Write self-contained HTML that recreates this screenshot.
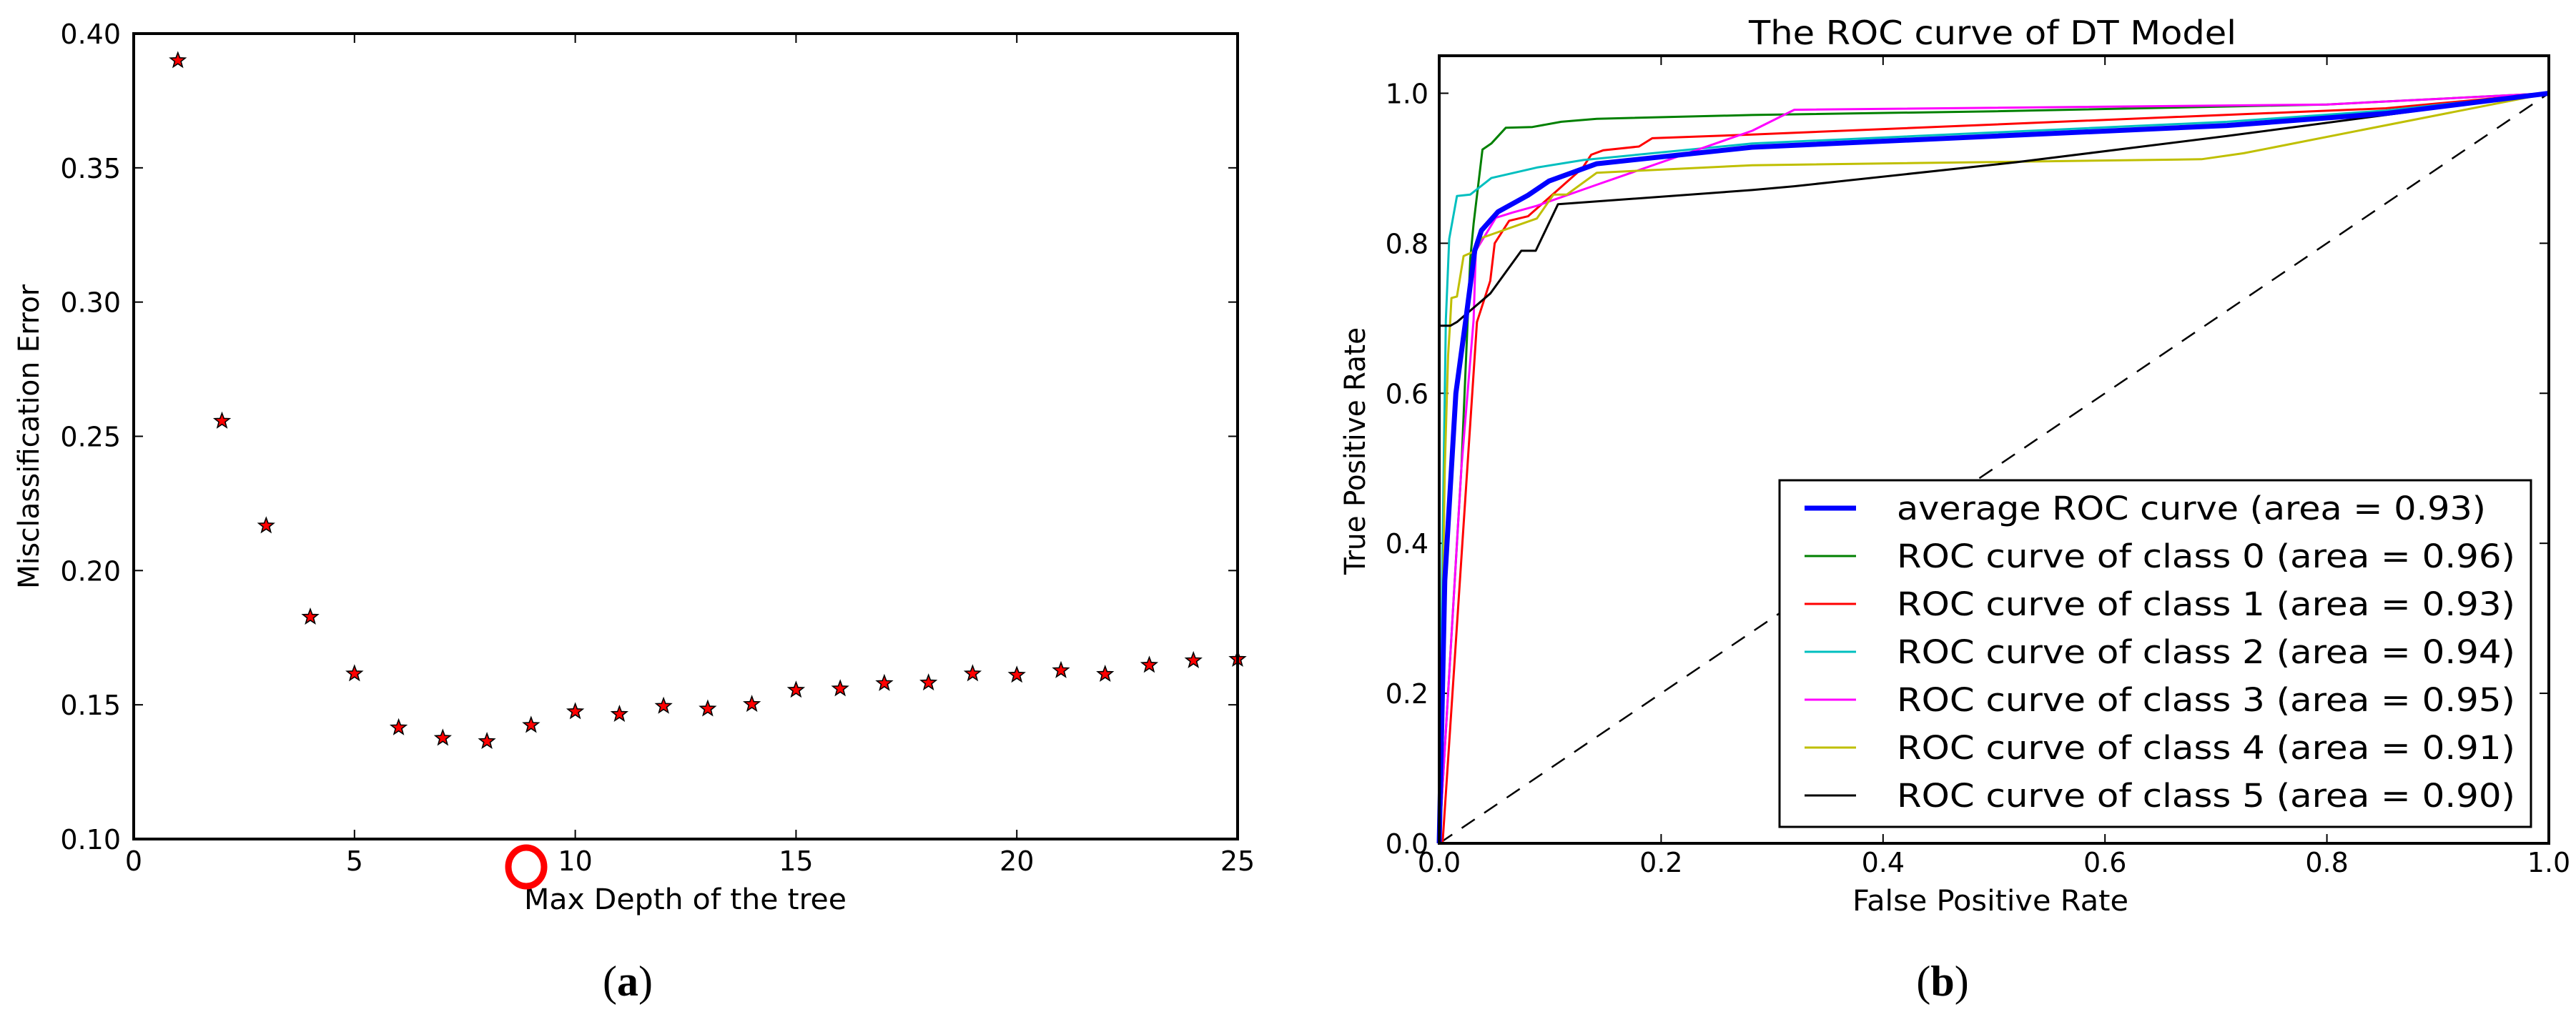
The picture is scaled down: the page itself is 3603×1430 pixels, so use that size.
<!DOCTYPE html>
<html><head><meta charset="utf-8"><style>
html,body{margin:0;padding:0;background:#fff;}
svg{display:block;}
text{font-family:"DejaVu Sans","Liberation Sans",sans-serif;fill:#000;}
</style></head><body>
<svg id="fig" width="3603" height="1430" viewBox="0 0 3603 1430" xmlns="http://www.w3.org/2000/svg">
<g id="chartA"></g>
<g id="chartB"></g>
</svg>
<script>
// ---- Chart (a) data ----
const depths = [1,2,3,4,5,6,7,8,9,10,11,12,13,14,15,16,17,18,19,20,21,22,23,24,25];
const errors = [0.390,0.2557,0.2167,0.1827,0.1616,0.1415,0.1376,0.1364,0.1424,0.1475,0.1465,0.1495,0.1485,0.1502,0.1555,0.156,0.158,0.1582,0.1616,0.1611,0.1628,0.1614,0.1648,0.1665,0.167];
const aXTicks = [0,5,10,15,20,25];
const aYTicks = ["0.10","0.15","0.20","0.25","0.30","0.35","0.40"];

// ---- Chart (b) data ----
const rocNames = ["average ROC curve (area = 0.93)","ROC curve of class 0 (area = 0.96)","ROC curve of class 1 (area = 0.93)","ROC curve of class 2 (area = 0.94)","ROC curve of class 3 (area = 0.95)","ROC curve of class 4 (area = 0.91)","ROC curve of class 5 (area = 0.90)"];
const rocColors = ["#0000ff","#008000","#ff0000","#00bfbf","#ff00ff","#bfbf00","#000000"];
const fprAvg = [0,0.005,0.015,0.024,0.032,0.038,0.053,0.080,0.099,0.142,0.282,0.71,0.853,1];
const tprAvg = [0,0.35,0.6,0.698,0.790,0.817,0.842,0.864,0.883,0.906,0.928,0.957,0.973,1];
const fpr0 = [0,0.02,0.028,0.031,0.039,0.047,0.060,0.084,0.110,0.142,0.282,0.5,0.8,1];
const tpr0 = [0,0.5,0.78,0.826,0.925,0.933,0.954,0.955,0.962,0.966,0.971,0.976,0.985,1];
const fpr1 = [0,0.003,0.034,0.046,0.050,0.063,0.080,0.129,0.137,0.148,0.180,0.192,0.282,0.853,1];
const tpr1 = [0,0,0.695,0.75,0.80,0.83,0.836,0.90,0.918,0.924,0.929,0.940,0.945,0.980,1];
const fpr2 = [0,0.003,0.006,0.009,0.016,0.028,0.047,0.088,0.130,0.282,0.71,0.853,1];
const tpr2 = [0,0.4,0.698,0.806,0.863,0.865,0.887,0.901,0.911,0.933,0.962,0.977,1];
const fpr3 = [0,0.02,0.031,0.033,0.051,0.066,0.088,0.142,0.282,0.32,0.8,1];
const tpr3 = [0,0.5,0.698,0.79,0.834,0.841,0.850,0.878,0.950,0.978,0.985,1];
const fpr4 = [0,0.005,0.008,0.010,0.011,0.016,0.022,0.033,0.038,0.088,0.103,0.115,0.142,0.282,0.687,0.725,1];
const tpr4 = [0,0.5,0.65,0.698,0.727,0.729,0.783,0.79,0.807,0.833,0.865,0.865,0.894,0.904,0.912,0.92,1];
const fpr5 = [0,0,0.010,0.016,0.046,0.074,0.087,0.107,0.282,0.32,0.52,0.71,0.853,1];
const tpr5 = [0,0.69,0.69,0.695,0.733,0.79,0.79,0.852,0.871,0.876,0.908,0.943,0.971,1];
const bTicks = ["0.0","0.2","0.4","0.6","0.8","1.0"];

const NS = "http://www.w3.org/2000/svg";
function mk(parent, tag, attrs, txt){
  const e = document.createElementNS(NS, tag);
  for (const k in attrs) e.setAttribute(k, attrs[k]);
  if (txt !== undefined) e.textContent = txt;
  parent.appendChild(e);
  return e;
}

// ===== Chart A =====
(function(){
  const g = document.getElementById('chartA');
  const L=187,R=1731,T=47,B=1174;
  const xs = v => L + (v-0)/(25-0)*(R-L);
  const ys = v => B - (v-0.10)/(0.40-0.10)*(B-T);
  aXTicks.forEach(t=>{
    const x = xs(t);
    const tk1 = mk(g,'line',{x1:x,y1:B,x2:x,y2:B-13,stroke:'#000','stroke-width':2});
    
    
    const tk2 = mk(g,'line',{x1:x,y1:T,x2:x,y2:T+13,stroke:'#000','stroke-width':2});
    
    
    const lb = mk(g,'text',{x:x,y:1218,'text-anchor':'middle','font-size':38},String(t));
    
    
  });
  aYTicks.forEach(s=>{
    const y = ys(parseFloat(s));
    const tk1 = mk(g,'line',{x1:L,y1:y,x2:L+13,y2:y,stroke:'#000','stroke-width':2});
    
    
    const tk2 = mk(g,'line',{x1:R,y1:y,x2:R-13,y2:y,stroke:'#000','stroke-width':2});
    
    
    const lb = mk(g,'text',{x:169,y:y+14,'text-anchor':'end','font-size':38},s);
    
    
  });
  depths.forEach((d,i)=>{
    const cx = xs(d), cy = ys(errors[i]);
    const pts=[];
    for(let k=0;k<10;k++){
      const r = k%2===0?11:4.6;
      const a = -Math.PI/2 + k*Math.PI/5;
      pts.push((cx+r*Math.cos(a)).toFixed(1)+','+(cy+r*Math.sin(a)).toFixed(1));
    }
    const s = mk(g,'polygon',{points:pts.join(' '),fill:'#ff0000',stroke:'#000','stroke-width':1.6});
    
    
  });
  const fr = mk(g,'rect',{x:L,y:T,width:R-L,height:B-T,fill:'none',stroke:'#000','stroke-width':4});
  
  
  const yt = mk(g,'text',{x:0,y:0,'text-anchor':'middle','font-size':40,transform:'translate(54,611) rotate(-90)',textLength:426,lengthAdjust:'spacingAndGlyphs'},'Misclassification Error');
  
  
  const xt = mk(g,'text',{x:733,y:1272,'font-size':40,textLength:451,lengthAdjust:'spacingAndGlyphs'},'Max Depth of the tree');
  
  
  const c = mk(g,'ellipse',{cx:736,cy:1213,rx:25,ry:27,fill:'none',stroke:'#ff0000','stroke-width':9});
  
  
  const cap = mk(g,'text',{x:878,y:1393,'text-anchor':'middle','font-size':60,style:'font-family:"Liberation Serif",serif'});
  
  
  cap.innerHTML='(<tspan font-weight="bold">a</tspan>)';
})();

// ===== Chart B =====
(function(){
  const g = document.getElementById('chartB');
  const L=2013,R=3565,T=78,B=1180;
  const xs = v => L + v*(R-L);
  const ys = v => B - v/1.05*(B-T);
  bTicks.forEach(s=>{
    const v = parseFloat(s);
    const x = xs(v), y = ys(v);
    [[x,B,x,B-13],[x,T,x,T+13],[L,y,L+13,y],[R,y,R-13,y]].forEach(c=>{
      const tk = mk(g,'line',{x1:c[0],y1:c[1],x2:c[2],y2:c[3],stroke:'#000','stroke-width':2});
      
      
    });
    const xl = mk(g,'text',{x:x,y:1220,'text-anchor':'middle','font-size':38},s);
    
    
    const yl = mk(g,'text',{x:1998,y:y+14,'text-anchor':'end','font-size':38},s);
    
    
  });
  const diag = mk(g,'line',{x1:xs(0),y1:ys(0),x2:xs(1),y2:ys(1),stroke:'#000','stroke-width':2.5,'stroke-dasharray':'22,16'});
  
  
  const series = [[fprAvg,tprAvg],[fpr0,tpr0],[fpr1,tpr1],[fpr2,tpr2],[fpr3,tpr3],[fpr4,tpr4],[fpr5,tpr5]];
  const order = [1,2,3,4,5,6,0];
  order.forEach(i=>{
    const fx=series[i][0], ty=series[i][1];
    const d = fx.map((v,k)=>(k?'L':'M')+xs(v).toFixed(1)+','+ys(ty[k]).toFixed(1)).join(' ');
    const p = mk(g,'path',{d:d,fill:'none',stroke:rocColors[i],'stroke-width':i===0?7:3,'stroke-linejoin':'round'});
    
    
  });
  const fr = mk(g,'rect',{x:L,y:T,width:R-L,height:B-T,fill:'none',stroke:'#000','stroke-width':4});
  
  
  // legend
  const lg = mk(g,'g',{});
  
  
  const box = mk(lg,'rect',{x:2489,y:672,width:1051,height:485,fill:'#fff',stroke:'#000','stroke-width':3});
  
  
  rocNames.forEach((nm,i)=>{
    const y = 711 + i*67;
    const ln = mk(lg,'line',{x1:2524,y1:y,x2:2596,y2:y,stroke:rocColors[i],'stroke-width':i===0?7:3});
    
    
    const tx = mk(lg,'text',{x:2653,y:y+16,'font-size':45,textLength:i===0?824:865,lengthAdjust:'spacingAndGlyphs'},nm);
    
    
  });
  const title = mk(g,'text',{x:2787,y:62,'text-anchor':'middle','font-size':46,textLength:682,lengthAdjust:'spacingAndGlyphs'},'The ROC curve of DT Model');
  
  
  const xt = mk(g,'text',{x:2784,y:1274,'text-anchor':'middle','font-size':40,textLength:386,lengthAdjust:'spacingAndGlyphs'},'False Positive Rate');
  
  
  const yt = mk(g,'text',{x:0,y:0,'text-anchor':'middle','font-size':40,transform:'translate(1909,631) rotate(-90)',textLength:346,lengthAdjust:'spacingAndGlyphs'},'True Positive Rate');
  
  
  const cap = mk(g,'text',{x:2717,y:1393,'text-anchor':'middle','font-size':60,style:'font-family:"Liberation Serif",serif'});
  
  
  cap.innerHTML='(<tspan font-weight="bold">b</tspan>)';
})();
</script>
</body></html>
